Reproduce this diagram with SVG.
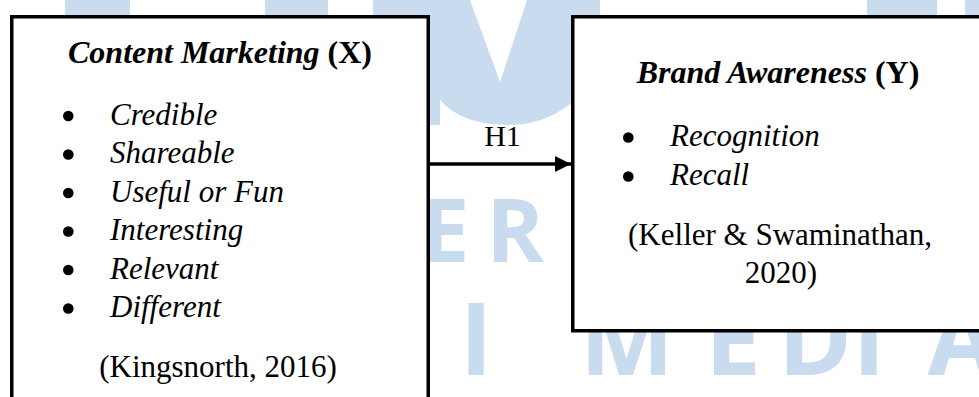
<svg xmlns="http://www.w3.org/2000/svg" width="979" height="397" viewBox="0 0 979 397">
  <style>
    .wm { fill: #c9dcef; }
    .wmt { fill: #c9dcef; font-family: "Open Sans", "DejaVu Sans", sans-serif; font-weight: 700; text-anchor: middle; }
    .box { fill: #ffffff; stroke: #000000; stroke-width: 3.5; }
    .t { font-family: "Liberation Serif", "Times New Roman", serif; fill: #000000; }
    .title { font-size: 32px; font-weight: bold; text-anchor: middle; }
    .item { font-size: 31px; font-style: italic; }
    .ref { font-size: 31px; text-anchor: middle; }
    .bul { fill: #000000; }
    .conn { stroke: #000000; stroke-width: 3.5; fill: none; }
  </style>
  <defs>
    <marker id="arrow" markerUnits="userSpaceOnUse" markerWidth="16" markerHeight="16" refX="16" refY="8" orient="auto">
      <path d="M0,0 L16,8 L0,16 Z" fill="#000000"/>
    </marker>
  </defs>
  <rect width="979" height="397" fill="#ffffff"/>
  <g id="watermark">
    <rect class="wm" x="65" y="0" width="65" height="20"/>
    <rect class="wm" x="265" y="0" width="63" height="20"/>
    <path class="wm" d="M373,0 L470,0 L500,82 L527,0 L600,0 L600,70 Q565,125 508,125 Q462,125 440,100 L440,125 L373,125 Z"/>
    <path class="wm" d="M867,0 L937,0 L937,20 L867,20 Z"/>
    <path class="wm" d="M965,0 L979,0 L979,20 L965,20 Z"/>
    <text class="wmt" x="445" y="262" font-size="88">E</text>
    <text class="wmt" x="515" y="262" font-size="88">R</text>
    <text class="wmt" x="476" y="375" font-size="100">I</text>
    <text class="wmt" x="627" y="375" font-size="100">M</text>
    <text class="wmt" x="733" y="375" font-size="100">E</text>
    <text class="wmt" x="815" y="375" font-size="100">D</text>
    <text class="wmt" x="869" y="375" font-size="100">I</text>
    <text class="wmt" x="962" y="375" font-size="100">A</text>
  </g>
  <g id="node-content-marketing">
    <rect class="box" x="11.75" y="16.75" width="416.5" height="400"/>
    <text class="t title" x="220" y="63"><tspan font-style="italic">Content Marketing</tspan> (X)</text>
    <circle class="bul" cx="68.3" cy="116" r="5.3"/>
    <circle class="bul" cx="68.3" cy="154.5" r="5.3"/>
    <circle class="bul" cx="68.3" cy="193" r="5.3"/>
    <circle class="bul" cx="68.3" cy="231.5" r="5.3"/>
    <circle class="bul" cx="68.3" cy="270" r="5.3"/>
    <circle class="bul" cx="68.3" cy="308.5" r="5.3"/>
    <text class="t item" x="110" y="124.5">Credible</text>
    <text class="t item" x="110" y="163">Shareable</text>
    <text class="t item" x="110" y="201.5">Useful or Fun</text>
    <text class="t item" x="110" y="240">Interesting</text>
    <text class="t item" x="110" y="278.5">Relevant</text>
    <text class="t item" x="110" y="317">Different</text>
    <text class="t ref" x="218" y="377">(Kingsnorth, 2016)</text>
  </g>
  <g id="node-brand-awareness">
    <rect class="box" x="572.75" y="16.75" width="420" height="314"/>
    <text class="t title" x="778" y="83"><tspan font-style="italic">Brand Awareness</tspan> (Y)</text>
    <circle class="bul" cx="628.3" cy="137.5" r="5.3"/>
    <circle class="bul" cx="628.3" cy="176.5" r="5.3"/>
    <text class="t item" x="670" y="146">Recognition</text>
    <text class="t item" x="670" y="185">Recall</text>
    <text class="t ref" x="780" y="245">(Keller &amp; Swaminathan,</text>
    <text class="t ref" x="781" y="283">2020)</text>
  </g>
  <g id="connectors">
    <line class="conn" x1="430" y1="164" x2="571" y2="164" marker-end="url(#arrow)"/>
    <text class="t" x="502.5" y="146" font-size="30" text-anchor="middle">H1</text>
  </g>
</svg>
